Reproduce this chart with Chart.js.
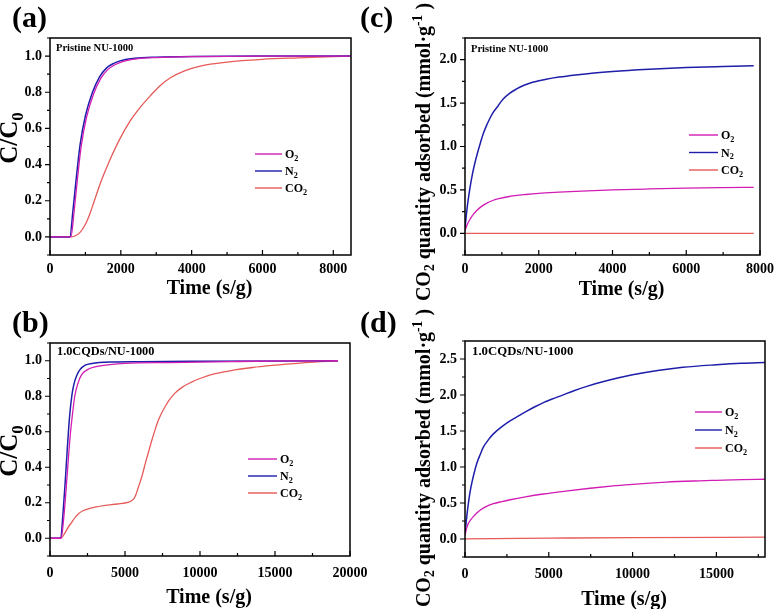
<!DOCTYPE html>
<html>
<head>
<meta charset="utf-8">
<script src="https://cdn.jsdelivr.net/npm/chart.js@4.4.0/dist/chart.umd.min.js"></script>
<style>
  body { margin: 0; background: #fff; width: 780px; height: 609px; position: relative; overflow: hidden; }
  canvas { position: absolute; }
  .lab { position: absolute; font: bold 30px 'Liberation Serif', serif; line-height: 1; color: #000; }
</style>
</head>
<body>
<canvas id="pa" width="390" height="305" style="left:0;top:0"></canvas>
<canvas id="pc" width="390" height="305" style="left:390px;top:0"></canvas>
<canvas id="pb" width="390" height="304" style="left:0;top:305px"></canvas>
<canvas id="pd" width="390" height="304" style="left:390px;top:305px"></canvas>
<div class="lab" style="left:12px;top:2px">(a)</div>
<div class="lab" style="left:360px;top:2px">(c)</div>
<div class="lab" style="left:12px;top:307px">(b)</div>
<div class="lab" style="left:360px;top:307px">(d)</div>
<script>
// ---- data: (a) breakthrough, pristine NU-1000
const aTimeN2 = [0, 300, 560, 650, 750, 850, 1000, 1200, 1400, 1600, 1800, 2000, 2400, 3000, 4000, 6000, 8500];
const aN2     = [0, 0, 0, 0.15, 0.34, 0.51, 0.67, 0.8, 0.885, 0.935, 0.96, 0.975, 0.988, 0.994, 0.998, 1.0, 1.0];
const aTimeO2 = [0, 300, 590, 680, 780, 880, 1030, 1230, 1430, 1630, 1830, 2050, 2450, 3000, 4000, 6000, 8500];
const aO2     = [0, 0, 0, 0.14, 0.33, 0.5, 0.66, 0.79, 0.875, 0.925, 0.952, 0.97, 0.985, 0.992, 0.997, 1.0, 1.0];
const aTimeCO2 = [0, 550, 700, 850, 1000, 1130, 1270, 1410, 1550, 1700, 1980, 2260, 2540, 2830, 3100, 3400, 3800, 4240, 5000, 6000, 7000, 8500];
const aCO2     = [0, 0, 0.005, 0.025, 0.07, 0.13, 0.21, 0.29, 0.36, 0.43, 0.545, 0.64, 0.715, 0.78, 0.835, 0.88, 0.918, 0.945, 0.967, 0.982, 0.99, 1.0];

// ---- data: (b) breakthrough, 1.0CQDs/NU-1000
const bTimeN2 = [0, 500, 720, 850, 1000, 1150, 1300, 1450, 1600, 1800, 2000, 2350, 2800, 3300, 4000, 6000, 10000, 19200];
const bN2     = [0, 0, 0, 0.12, 0.3, 0.5, 0.68, 0.8, 0.87, 0.92, 0.95, 0.975, 0.985, 0.99, 0.993, 0.995, 0.997, 1.0];
const bTimeO2 = [0, 500, 740, 900, 1050, 1200, 1350, 1500, 1650, 1850, 2100, 2500, 3000, 4000, 5000, 8000, 12000, 16000, 19200];
const bO2     = [0, 0, 0, 0.1, 0.25, 0.42, 0.58, 0.7, 0.8, 0.87, 0.92, 0.95, 0.965, 0.978, 0.985, 0.99, 0.995, 0.999, 1.0];
const bTimeCO2 = [0, 700, 800, 1000, 1200, 1450, 1700, 1900, 2200, 2600, 3000, 3700, 4500, 5240, 5500, 5700, 5900, 6130, 6350, 6580, 6800, 7020, 7250, 7470, 7700, 7920, 8300, 8800, 9400, 10000, 11000, 12300, 13500, 15000, 17000, 19200];
const bCO2     = [0, 0, 0.005, 0.03, 0.06, 0.09, 0.12, 0.138, 0.155, 0.167, 0.175, 0.185, 0.193, 0.204, 0.215, 0.24, 0.29, 0.35, 0.42, 0.49, 0.555, 0.615, 0.67, 0.71, 0.745, 0.775, 0.815, 0.85, 0.878, 0.9, 0.927, 0.948, 0.962, 0.975, 0.99, 1.0];

// ---- data: (c) uptake, pristine NU-1000
const cTimeN2 = [0, 60, 134, 200, 268, 335, 403, 490, 582, 670, 761, 900, 1029, 1200, 1387, 1600, 1834, 2200, 2550, 3000, 3500, 4000, 5000, 6000, 7000, 7830];
const cN2     = [0.06, 0.3, 0.52, 0.68, 0.81, 0.92, 1.02, 1.14, 1.24, 1.32, 1.39, 1.47, 1.545, 1.61, 1.66, 1.705, 1.74, 1.775, 1.8, 1.825, 1.848, 1.865, 1.89, 1.91, 1.922, 1.93];
const cTimeO2 = [0, 60, 134, 220, 313, 450, 582, 750, 940, 1200, 1655, 2000, 2550, 3000, 4000, 5000, 6000, 7000, 7830];
const cO2     = [0.03, 0.1, 0.16, 0.215, 0.26, 0.31, 0.345, 0.378, 0.402, 0.424, 0.447, 0.46, 0.474, 0.484, 0.5, 0.511, 0.52, 0.526, 0.53];
const cTimeCO2 = [0, 7830];
const cCO2     = [0, 0];

// ---- data: (d) uptake, 1.0CQDs/NU-1000
const dTimeN2 = [0, 100, 199, 300, 398, 550, 697, 900, 1095, 1400, 1693, 2200, 2688, 3200, 3686, 4200, 4677, 5200, 5675, 6500, 7270, 8500, 10000, 11500, 13000, 15000, 16500, 17900];
const dN2     = [0.08, 0.3, 0.49, 0.65, 0.77, 0.92, 1.046, 1.17, 1.275, 1.38, 1.46, 1.56, 1.64, 1.71, 1.775, 1.84, 1.895, 1.945, 1.985, 2.06, 2.12, 2.2, 2.28, 2.34, 2.385, 2.42, 2.44, 2.45];
const dTimeO2 = [0, 100, 199, 350, 497, 700, 896, 1250, 1693, 2200, 2688, 3600, 4677, 6000, 7470, 9000, 10000, 12000, 14000, 15000, 16500, 17900];
const dO2     = [0.05, 0.15, 0.217, 0.27, 0.31, 0.36, 0.4, 0.45, 0.49, 0.52, 0.545, 0.585, 0.625, 0.665, 0.705, 0.74, 0.76, 0.79, 0.808, 0.815, 0.825, 0.83];
const dTimeCO2 = [0, 5000, 10000, 17900];
const dCO2     = [0.003, 0.012, 0.02, 0.025];

// ---- tick labels
const aXTicks = [0, 2000, 4000, 6000, 8000];
const bXTicks = [0, 5000, 10000, 15000, 20000];
const cXTicks = [0, 2000, 4000, 6000, 8000];
const dXTicks = [0, 5000, 10000, 15000];
const abYTicks = [0, 0.2, 0.4, 0.6, 0.8, 1.0];
const cYTicks = [0, 0.5, 1.0, 1.5, 2.0];
const dYTicks = [0, 0.5, 1.0, 1.5, 2.0, 2.5];

const gasNames = ['O2', 'N2', 'CO2'];
const gasColors = ['#d21cb4', '#1e1eaa', '#e65a58'];

const FONT = "'Liberation Serif', serif";
Chart.defaults.font.family = FONT;
Chart.defaults.font.weight = 'bold';
Chart.defaults.font.size = 14;
Chart.defaults.color = '#000';

function pts(t, v) { return t.map((x, i) => ({ x: x, y: v[i] })); }

// text with sub/superscripts: parts = [[text, 'n'|'sub'|'sup'], ...]
function rich(ctx, parts, x, y, size, align) {
  let w = 0;
  const m = parts.map(([t, k]) => {
    const s = k === 'n' ? size : size * 0.68;
    ctx.font = 'bold ' + s + 'px ' + FONT;
    const ww = ctx.measureText(t).width;
    w += ww;
    return [t, k, s, ww];
  });
  let cx = align === 'center' ? x - w / 2 : x;
  ctx.textAlign = 'left';
  ctx.textBaseline = 'alphabetic';
  m.forEach(([t, k, s, ww]) => {
    ctx.font = 'bold ' + s + 'px ' + FONT;
    const dy = k === 'sub' ? size * 0.22 : (k === 'sup' ? -size * 0.4 : 0);
    ctx.fillText(t, cx, y + dy);
    cx += ww;
  });
}

function gasParts(name) {
  return name === 'CO2' ? [['CO', 'n'], ['2', 'sub']] : [[name[0], 'n'], ['2', 'sub']];
}

const deco = {
  id: 'deco',
  afterDraw(chart) {
    const o = chart.options.plugins.deco;
    const { ctx, chartArea: a } = chart;
    const xs = chart.scales.x, ys = chart.scales.y;
    ctx.save();
    ctx.fillStyle = '#000';
    ctx.strokeStyle = '#000';
    ctx.lineWidth = 1.5;
    ctx.strokeRect(a.left, a.top, a.right - a.left, a.bottom - a.top);
    // minor/major ticks
    ctx.lineWidth = 1.2;
    ctx.beginPath();
    for (let k = Math.ceil(xs.min / o.xMinor); k * o.xMinor <= xs.max + 1e-9; k++) {
      const px = xs.getPixelForValue(k * o.xMinor);
      const len = k % 2 === 0 ? 5 : 3;
      ctx.moveTo(px, a.bottom); ctx.lineTo(px, a.bottom - len);
    }
    for (let k = Math.ceil(ys.min / o.yMinor - 1e-9); k * o.yMinor <= ys.max + 1e-9; k++) {
      const py = ys.getPixelForValue(k * o.yMinor);
      const len = k % 2 === 0 ? 5 : 3;
      ctx.moveTo(a.left, py); ctx.lineTo(a.left - len, py);
    }
    ctx.stroke();
    // inset label
    ctx.font = 'bold ' + o.inset[1] + 'px ' + FONT;
    ctx.textAlign = 'left'; ctx.textBaseline = 'alphabetic';
    ctx.fillText(o.inset[0], o.inset[2], o.inset[3]);
    // legend
    const [lx, ly, gap, llen] = o.legend;
    chart.data.datasets.forEach((ds, i) => {
      const y = ly + i * gap;
      ctx.strokeStyle = ds.borderColor;
      ctx.lineWidth = 1.4;
      ctx.beginPath(); ctx.moveTo(lx, y); ctx.lineTo(lx + llen, y); ctx.stroke();
      rich(ctx, gasParts(ds.label), lx + llen + 3, y + 4, 12, 'left');
    });
    // x title
    rich(ctx, [['Time (s/g)', 'n']], (a.left + a.right) / 2 + 9, o.xTitleY, 20, 'center');
    // y title
    ctx.save();
    ctx.translate(o.yTitle[1], o.yTitle[2]);
    ctx.rotate(-Math.PI / 2);
    rich(ctx, o.yTitle[0], 0, 0, o.yTitle[3], 'center');
    ctx.restore();
    ctx.restore();
  }
};

function makePanel(id, series, cfg) {
  const datasets = series.map((s, i) => ({
    label: gasNames[i],
    data: pts(s[0], s[1]),
    borderColor: gasColors[i],
    borderWidth: i === 1 ? 1.5 : 1.3,
    pointRadius: 0,
    cubicInterpolationMode: 'monotone',
    fill: false
  }));
  new Chart(document.getElementById(id), {
    type: 'line',
    data: { datasets: datasets },
    plugins: [deco],
    options: {
      responsive: false,
      animation: false,
      devicePixelRatio: 1,
      layout: { padding: { left: 0, bottom: 0, top: cfg.box[2], right: cfg.box[1] } },
      plugins: {
        legend: { display: false },
        tooltip: { enabled: false },
        deco: cfg.deco
      },
      scales: {
        x: {
          type: 'linear', min: 0, max: cfg.xMax,
          grid: { display: false, drawTicks: false }, border: { display: false },
          afterBuildTicks: s => { s.ticks = cfg.xTicks.map(v => ({ value: v })); },
          afterFit: s => { s.height = cfg.box[3]; },
          ticks: { padding: cfg.xPad, maxRotation: 0, autoSkip: false, callback: v => String(v) }
        },
        y: {
          type: 'linear', min: cfg.yMin, max: cfg.yMax,
          grid: { display: false, drawTicks: false }, border: { display: false },
          afterBuildTicks: s => { s.ticks = cfg.yTicks.map(v => ({ value: v })); },
          afterFit: s => { s.width = cfg.box[0]; },
          ticks: { padding: 8, autoSkip: false, callback: v => v.toFixed(1) }
        }
      }
    }
  });
}

const ccYTitle = [['CO', 'n'], ['2', 'sub'], [' quantity adsorbed (mmol\u00b7g', 'n'], ['-1', 'sup'], [' )', 'n']];

makePanel('pa', [[aTimeO2, aO2], [aTimeN2, aN2], [aTimeCO2, aCO2]], {
  box: [50, 39, 38, 50], xMax: 8500, yMin: -0.1, yMax: 1.1, xTicks: aXTicks, yTicks: abYTicks, xPad: 6,
  deco: { xMinor: 1000, yMinor: 0.1, inset: ['Pristine NU-1000', 10.5, 56, 51], legend: [255, 154, 17, 27],
          xTitleY: 294, yTitle: [[['C/C', 'n'], ['0', 'sub']], 17, 138, 25] }
});
makePanel('pb', [[bTimeO2, bO2], [bTimeN2, bN2], [bTimeCO2, bCO2]], {
  box: [50, 40, 38, 53], xMax: 20000, yMin: -0.1, yMax: 1.1, xTicks: bXTicks, yTicks: abYTicks, xPad: 9,
  deco: { xMinor: 2500, yMinor: 0.1, inset: ['1.0CQDs/NU-1000', 12.3, 57, 50], legend: [248, 154, 17, 29],
          xTitleY: 298, yTitle: [[['C/C', 'n'], ['0', 'sub']], 17, 146, 25] }
});
makePanel('pc', [[cTimeO2, cO2], [cTimeN2, cN2], [cTimeCO2, cCO2]], {
  box: [75, 15, 38, 50], xMax: 8000, yMin: -0.25, yMax: 2.25, xTicks: cXTicks, yTicks: cYTicks, xPad: 6,
  deco: { xMinor: 1000, yMinor: 0.25, inset: ['Pristine NU-1000', 10.5, 81, 52], legend: [299, 135, 17.5, 29],
          xTitleY: 295, yTitle: [ccYTitle, 40, 152, 20] }
});
makePanel('pd', [[dTimeO2, dO2], [dTimeN2, dN2], [dTimeCO2, dCO2]], {
  box: [75, 15, 36, 52], xMax: 17900, yMin: -0.25, yMax: 2.75, xTicks: dXTicks, yTicks: dYTicks, xPad: 9,
  deco: { xMinor: 2500, yMinor: 0.25, inset: ['1.0CQDs/NU-1000', 12.8, 82, 50], legend: [305, 107, 18, 27],
          xTitleY: 300, yTitle: [ccYTitle, 40, 153, 20] }
});
</script>
</body>
</html>
